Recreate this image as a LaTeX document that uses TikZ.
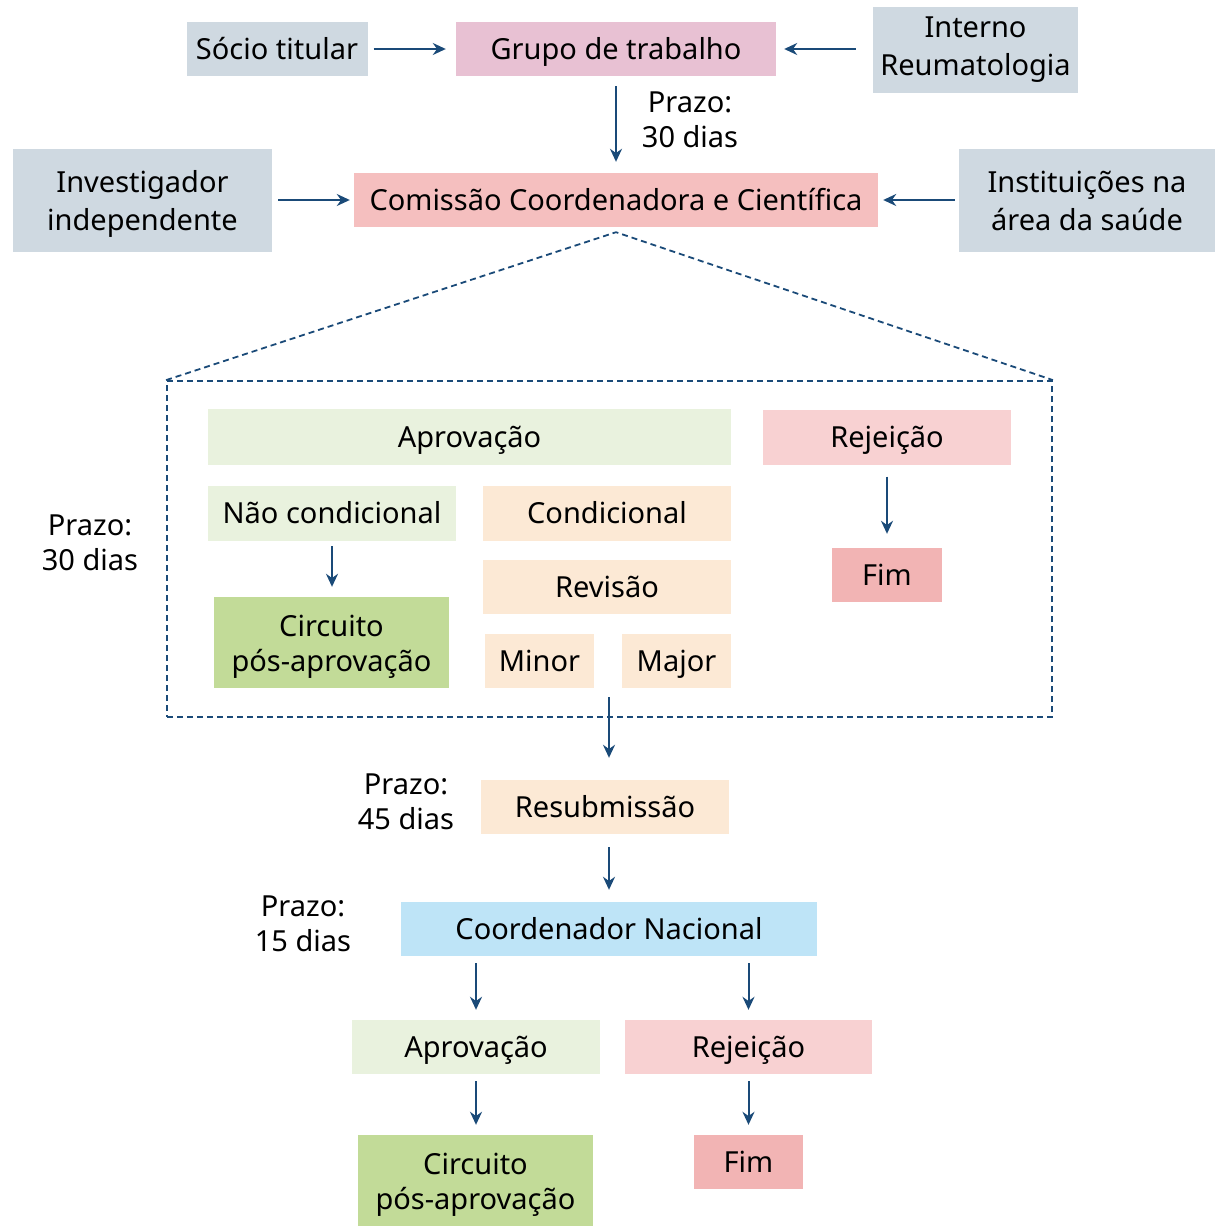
\documentclass[tikz,border=0pt]{standalone}
\usepackage{fontspec}
\setmainfont{Noto Sans}
\usetikzlibrary{arrows.meta,positioning}

\definecolor{greybox}{HTML}{CFD9E1}
\definecolor{grupopink}{HTML}{E8C1D3}
\definecolor{comred}{HTML}{F5BFBF}
\definecolor{lightgreen}{HTML}{E9F2DE}
\definecolor{peach}{HTML}{FCE9D5}
\definecolor{rejpink}{HTML}{F8D1D2}
\definecolor{fimred}{HTML}{F2B4B4}
\definecolor{circgreen}{HTML}{C2DB98}
\definecolor{coordblue}{HTML}{BEE4F7}
\definecolor{arrowblue}{HTML}{1A4A78}

\newcommand{\boxstrut}{\rule[-8pt]{0pt}{36.7pt}}
\newcommand{\topstrut}{\rule{0pt}{31pt}}

\begin{document}
\begin{tikzpicture}[x=1pt,y=-1pt,>={Stealth[length=13pt,width=12pt]},
                    font=\fontsize{29}{35}\selectfont,
                    box/.style={fill=#1,inner sep=0pt,align=center,
                                execute at begin node=\boxstrut,execute at end node=\boxstrut},
                    greybox/.style={box=greybox,font=\fontsize{29}{38}\selectfont},
                    link/.style={->,line width=2pt,draw=arrowblue,shorten <=7pt,shorten >=10pt},
                    dashline/.style={line width=1.8pt,draw=arrowblue,dash pattern=on 6pt off 4pt},
                    prazo/.style={align=center,inner sep=0pt,
                                  execute at begin node=\boxstrut,execute at end node=\boxstrut}]
  \useasboundingbox (0,0) rectangle (1215,1226);

  % top row
  \node[greybox,minimum width=181,minimum height=54] (socio) at (277,49) {Sócio titular};
  \node[box=grupopink,minimum width=320,minimum height=54] (grupo) at (616,49) {Grupo de trabalho};
  \node[greybox,minimum width=205,minimum height=86] (interno) at (975.5,50) {Interno\\Reumatologia};
  \node[prazo] (prazo1) at (690,124) {Prazo:\\30 dias};

  % second row
  \node[greybox,minimum width=259,minimum height=103] (invest) at (142.5,200) {\topstrut Investigador\\independente};
  \node[box=comred,minimum width=524,minimum height=54] (comissao) at (616,200) {Comissão Coordenadora e Científica};
  \node[greybox,minimum width=256,minimum height=103] (instit) at (1087,200) {\topstrut Instituições na\\área da saúde};

  \draw[link,shorten <=6pt] (socio) -- (grupo);
  \draw[link,shorten <=17pt,shorten >=8pt] (interno.west |- grupo) -- (grupo);
  \draw[link,shorten <=10pt,shorten >=11pt] (grupo) -- (comissao);
  \draw[link,shorten <=6pt,shorten >=4pt] (invest) -- (comissao);
  \draw[link,shorten <=4pt,shorten >=5pt] (instit) -- (comissao);

  % decision frame
  \node[draw=arrowblue,line width=1.8pt,dash pattern=on 6pt off 4pt,
        minimum width=885,minimum height=336] (frame) at (609.5,549) {};
  \coordinate (apex) at ([yshift=-5pt]comissao.south);
  \draw[dashline] (frame.north west) -- (apex) -- (frame.north east);
  \node[prazo] (prazo2) at (90,547) {Prazo:\\30 dias};

  \node[box=lightgreen,minimum width=523,minimum height=56] (aprov) at (469.5,437) {Aprovação};
  \node[box=rejpink,minimum width=248,minimum height=55] (rejei) at (887,437) {Rejeição};
  \node[box=lightgreen,minimum width=248,minimum height=55] (naocond) at (332,513.5) {Não condicional};
  \node[box=peach,minimum width=248,minimum height=55] (cond) at (607,513.5) {Condicional};
  \node[box=circgreen,minimum width=235,minimum height=91] (circ) at (331.5,642.5) {\topstrut Circuito\\pós-aprovação};
  \node[box=peach,minimum width=248,minimum height=54] (revisao) at (607,587) {Revisão};
  \node[box=peach,minimum width=109,minimum height=54] (minor) at (539.5,661) {Minor};
  \node[box=peach,minimum width=109,minimum height=54] (major) at (676.5,661) {Major};
  \node[box=fimred,minimum width=110,minimum height=54] (fim) at (887,575) {Fim};

  \draw[link,shorten <=5pt] (naocond) -- (naocond |- circ.north);
  \draw[link,shorten <=12pt,shorten >=14pt] (rejei) -- (fim);

  % resubmission
  \coordinate (split) at (609,697);
  \node[box=peach,minimum width=248,minimum height=54] (resub) at (605,807) {Resubmissão};
  \node[prazo] (prazo3) at (406,806) {Prazo:\\45 dias};
  \draw[link,shorten <=0pt,shorten >=22pt] (split) -- (split |- resub.north);

  \node[box=coordblue,minimum width=416,minimum height=54] (coord) at (609,929) {Coordenador Nacional};
  \node[prazo] (prazo4) at (303,928) {Prazo:\\15 dias};
  \draw[link,shorten <=13pt,shorten >=12pt] (resub.south -| split) -- (coord.north -| split);

  % national decision
  \node[box=lightgreen,minimum width=248,minimum height=54] (aprov2) at (476,1047) {Aprovação};
  \node[box=rejpink,minimum width=247,minimum height=54] (rejei2) at (748.5,1047) {Rejeição};
  \node[box=circgreen,minimum width=235,minimum height=91] (circ2) at (475.5,1180.5) {\topstrut Circuito\\pós-aprovação};
  \node[box=fimred,minimum width=109,minimum height=54] (fim2) at (748.5,1162) {Fim};

  \draw[link] (coord.south -| aprov2) -- (aprov2);
  \draw[link] (coord.south -| rejei2) -- (rejei2);
  \draw[link] (aprov2) -- (aprov2 |- circ2.north);
  \draw[link] (rejei2) -- (fim2);
\end{tikzpicture}
\end{document}
